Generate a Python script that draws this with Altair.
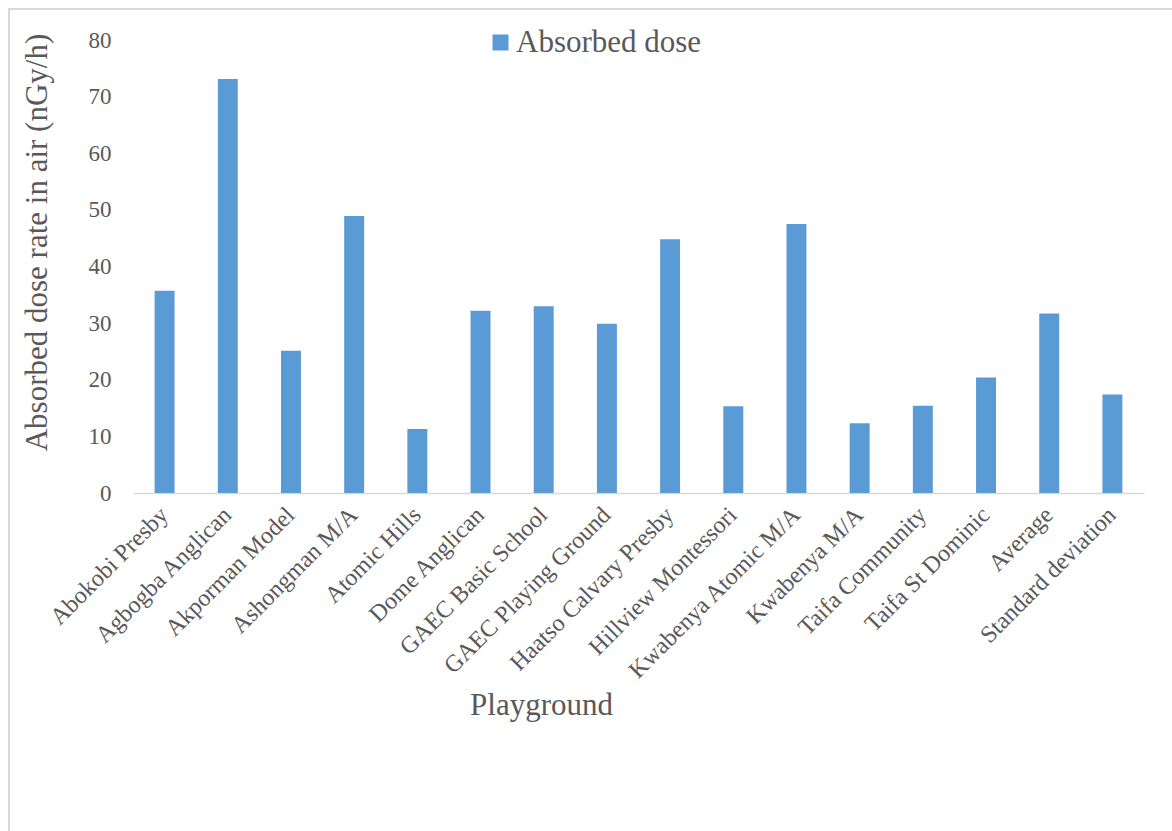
import altair as alt
import pandas as pd

playgrounds = [
    "Abokobi Presby", "Agbogba Anglican", "Akporman Model", "Ashongman M/A",
    "Atomic Hills", "Dome Anglican", "GAEC Basic School", "GAEC Playing Ground",
    "Haatso Calvary Presby", "Hillview Montessori", "Kwabenya Atomic M/A",
    "Kwabenya M/A", "Taifa Community", "Taifa St Dominic", "Average",
    "Standard deviation",
]
absorbed_dose = [35.7, 73.1, 25.1, 48.9, 11.3, 32.2, 33.0, 29.9,
                 44.8, 15.3, 47.5, 12.3, 15.4, 20.4, 31.7, 17.4]
series_name = ["Absorbed dose"] * len(playgrounds)

df = pd.DataFrame({"Playground": playgrounds, "dose": absorbed_dose, "series": series_name})

FONT = "Liberation Serif"
TXT = "#595959"

bars = alt.Chart(df).mark_bar(color="#5B9BD5").encode(
    x=alt.X(
        "Playground:N",
        sort=playgrounds,
        scale=alt.Scale(paddingInner=0.684, paddingOuter=0.342),
        axis=alt.Axis(
            title="Playground",
            labelAngle=-45,
            labelAlign="right",
            labelBaseline="middle",
            labelFont=FONT,
            labelFontSize=24,
            labelColor=TXT,
            labelPadding=18,
            labelLimit=0,
            ticks=False,
            domainColor="#D9D9D9",
            domainWidth=1.5,
            titleFont=FONT,
            titleFontSize=31,
            titleFontWeight="normal",
            titleColor=TXT,
            titleX=408,
            titleY=221,
            titleAlign="center",
            titleBaseline="alphabetic",
        ),
    ),
    y=alt.Y(
        "dose:Q",
        scale=alt.Scale(domain=[0, 80], nice=False),
        axis=alt.Axis(
            title="Absorbed dose rate in air (nGy/h)",
            values=[0, 10, 20, 30, 40, 50, 60, 70, 80],
            grid=False,
            domain=False,
            ticks=False,
            labelFont=FONT,
            labelFontSize=23,
            labelColor=TXT,
            labelPadding=22,
            titleFont=FONT,
            titleFontSize=31,
            titleFontWeight="normal",
            titleColor=TXT,
            titleX=-80,
            titleY=202,
            titleAlign="center",
        ),
    ),
    color=alt.Color(
        "series:N",
        scale=alt.Scale(range=["#5B9BD5"]),
        legend=alt.Legend(
            title=None,
            orient="none",
            legendX=352,
            legendY=-13,
            symbolType="square",
            symbolSize=256,
            symbolStrokeWidth=0,
            labelFont=FONT,
            labelFontSize=31,
            labelColor=TXT,
            labelOffset=0,
            labelLimit=0,
        ),
    ),
)

border = alt.Chart(alt.Data(values=[{"b": 1}])).mark_rect(
    filled=False, stroke="#D9D9D9", strokeWidth=2
).encode(
    x=alt.value(-124), y=alt.value(-31), x2=alt.value(1200), y2=alt.value(900)
)

chart = alt.layer(border, bars).properties(
    width=1011,
    height=453,
    autosize=alt.AutoSizeParams(type="none"),
    padding={"left": 133, "top": 40, "right": 28, "bottom": 338},
).configure_view(stroke=None)

chart.save("out.html", embed_options={"renderer": "svg", "actions": False})
